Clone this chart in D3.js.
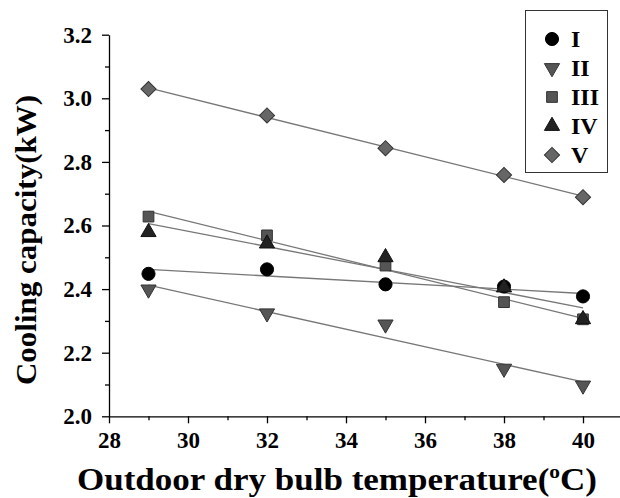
<!DOCTYPE html>
<html>
<head>
<meta charset="utf-8">
<script src="https://cdn.jsdelivr.net/npm/d3@7"></script>
<style>
body{margin:0;background:#fff;}
text{font-family:"Liberation Serif","Times New Roman",serif;font-weight:bold;}
</style>
</head>
<body>
<div class="canvas"></div>
<script>
const W=620,H=498;

// data
const temps=[29,32,35,38,40];
const names=["I","II","III","IV","V"];
const sI  =[2.448,2.462,2.415,2.408,2.377];
const sII =[2.399,2.324,2.289,2.150,2.097];
const sIII=[2.628,2.569,2.474,2.359,2.305];
const sIV =[2.579,2.543,2.500,2.405,2.305];
const sV  =[3.029,2.946,2.843,2.759,2.689];
const xMajor=[28,30,32,34,36,38,40];
const xMinor=[29,31,33,35,37,39,41];
const yMajor=[2.0,2.2,2.4,2.6,2.8,3.0,3.2];
const yMinor=[2.1,2.3,2.5,2.7,2.9,3.1];

const allSeries=[sI,sII,sIII,sIV,sV];

const styles=[
  {type:d3.symbolCircle,size:135,rot:0,fill:"#000",stroke:"#000"},
  {type:d3.symbolTriangle,size:100,rot:180,fill:"#555",stroke:"#333"},
  {type:d3.symbolSquare,size:115,rot:0,fill:"#555",stroke:"#333"},
  {type:d3.symbolTriangle,size:100,rot:0,fill:"#222",stroke:"#111"},
  {type:d3.symbolSquare,size:115,rot:45,fill:"#666",stroke:"#333"}
];

const xScale=d3.scaleLinear().domain([28,41]).range([109,622.5]);
const yScale=d3.scaleLinear().domain([2.0,3.2]).range([416.3,34.7]);

const svg=d3.select(".canvas").append("svg")
  .attr("width",W).attr("height",H);

// linear fit
function fit(xs,ys){
  const mx=d3.mean(xs),my=d3.mean(ys);
  let sxy=0,sxx=0;
  xs.forEach((x,i)=>{sxy+=(x-mx)*(ys[i]-my);sxx+=(x-mx)*(x-mx);});
  const b=sxy/sxx;
  return x=>my+b*(x-mx);
}

// axes
const xAxis=svg.append("g").attr("transform",`translate(0,${yScale(2.0)})`)
  .call(d3.axisBottom(xScale).tickValues(xMajor).tickSize(7).tickSizeOuter(0).tickFormat(d3.format("d")));
svg.append("g").attr("transform",`translate(0,${yScale(2.0)})`)
  .call(d3.axisBottom(xScale).tickValues(xMinor).tickSize(4).tickFormat(""))
  .select(".domain").remove();
xAxis.selectAll("text").attr("font-size",23).attr("dy","0.95em").attr("fill","#000");

const yAxis=svg.append("g").attr("transform",`translate(${xScale(28)},0)`)
  .call(d3.axisLeft(yScale).tickValues(yMajor).tickSize(7).tickSizeOuter(0).tickFormat(d3.format(".1f")));
svg.append("g").attr("transform",`translate(${xScale(28)},0)`)
  .call(d3.axisLeft(yScale).tickValues(yMinor).tickSize(4).tickFormat(""))
  .select(".domain").remove();
yAxis.selectAll("text").attr("font-size",23).attr("dx","-0.3em").attr("fill","#000");
svg.selectAll(".domain,.tick line").attr("stroke","#000").attr("stroke-width",1.3);

// fit lines
allSeries.forEach((s,i)=>{
  const f=fit(temps,s);
  svg.append("line")
    .attr("x1",xScale(temps[0])).attr("y1",yScale(f(temps[0])))
    .attr("x2",xScale(temps[temps.length-1])).attr("y2",yScale(f(temps[temps.length-1])))
    .attr("stroke","#777").attr("stroke-width",1.3);
});

// points
allSeries.forEach((s,i)=>{
  const st=styles[i];
  svg.append("g").selectAll("path").data(s).enter().append("path")
    .attr("d",d3.symbol().type(st.type).size(st.size))
    .attr("transform",(d,j)=>`translate(${xScale(temps[j])},${yScale(d)}) rotate(${st.rot})`)
    .attr("fill",st.fill).attr("stroke",st.stroke).attr("stroke-width",1);
});

// legend
const leg=svg.append("g");
leg.append("rect").attr("x",525.5).attr("y",10.5).attr("width",82).attr("height",162)
  .attr("fill","#fff").attr("stroke","#333").attr("stroke-width",1);
names.forEach((n,i)=>{
  const st=styles[i],yy=39+i*29;
  leg.append("path").attr("d",d3.symbol().type(st.type).size(st.size))
    .attr("transform",`translate(552,${yy}) rotate(${st.rot})`)
    .attr("fill",st.fill).attr("stroke",st.stroke);
  leg.append("text").attr("x",571).attr("y",yy).attr("dy","0.35em")
    .attr("font-size",24).text(n);
});

// axis titles
svg.append("text").attr("x",77).attr("y",490)
  .attr("font-size",31)
  .attr("textLength",520).attr("lengthAdjust","spacingAndGlyphs")
  .html('Outdoor dry bulb temperature(<tspan font-size="19" dy="-12">o</tspan><tspan dy="12">C)</tspan>');
svg.append("text").attr("transform","translate(36,240) rotate(-90)")
  .attr("text-anchor","middle").attr("font-size",30)
  .attr("textLength",290).attr("lengthAdjust","spacingAndGlyphs")
  .text("Cooling capacity(kW)");
</script>
</body>
</html>
